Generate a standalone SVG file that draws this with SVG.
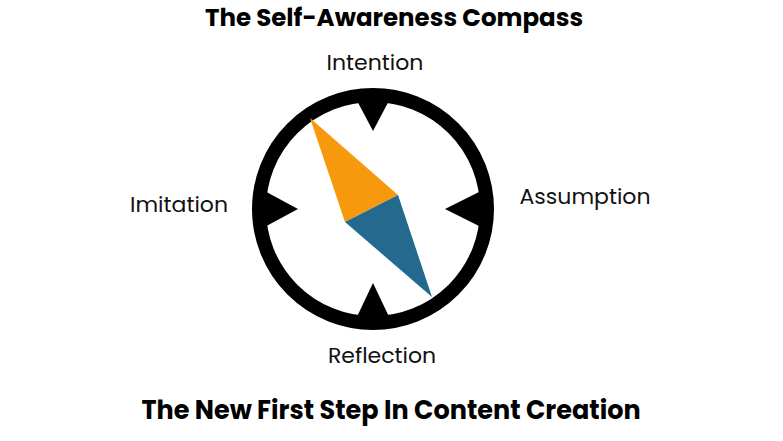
<svg xmlns="http://www.w3.org/2000/svg" width="783" height="441" viewBox="0 0 783 441">
<style>
.t{font-family:"Poppins","Lato","Liberation Sans",sans-serif;font-weight:bold;fill:#000;text-anchor:middle}
.l{font-family:"Poppins","Lato","Liberation Sans",sans-serif;font-size:22px;fill:#111;text-anchor:middle}
</style>
<rect width="783" height="441" fill="#fff"/>
<text class="t" x="394" y="26" font-size="24.5px">The Self-Awareness Compass</text>
<text class="t" x="391" y="419" font-size="25.5px">The New First Step In Content Creation</text>
<g id="ring">
<circle cx="373" cy="209" r="114" fill="#fff" stroke="#000" stroke-width="14"/>
<polygon points="354,95 392,95 373,131" fill="#000"/>
<polygon points="354,323 392,323 373,283" fill="#000"/>
<polygon points="259,188 259,230 298,209" fill="#000"/>
<polygon points="487,188 487,230 445,209" fill="#000"/>
</g>
<g id="needle">
<polygon points="310,118 398,195 345,222" fill="#f7990c"/>
<polygon points="398,195 345,222 432,297" fill="#236a8e"/>
</g>
<g id="intention"><text class="l" x="375" y="70">Intention</text></g>
<g id="assumption"><text class="l" x="585" y="204">Assumption</text></g>
<g id="imitation"><text class="l" x="179" y="212">Imitation</text></g>
<g id="reflection"><text class="l" x="382" y="363">Reflection</text></g>
<g id="connectors"></g>
</svg>
